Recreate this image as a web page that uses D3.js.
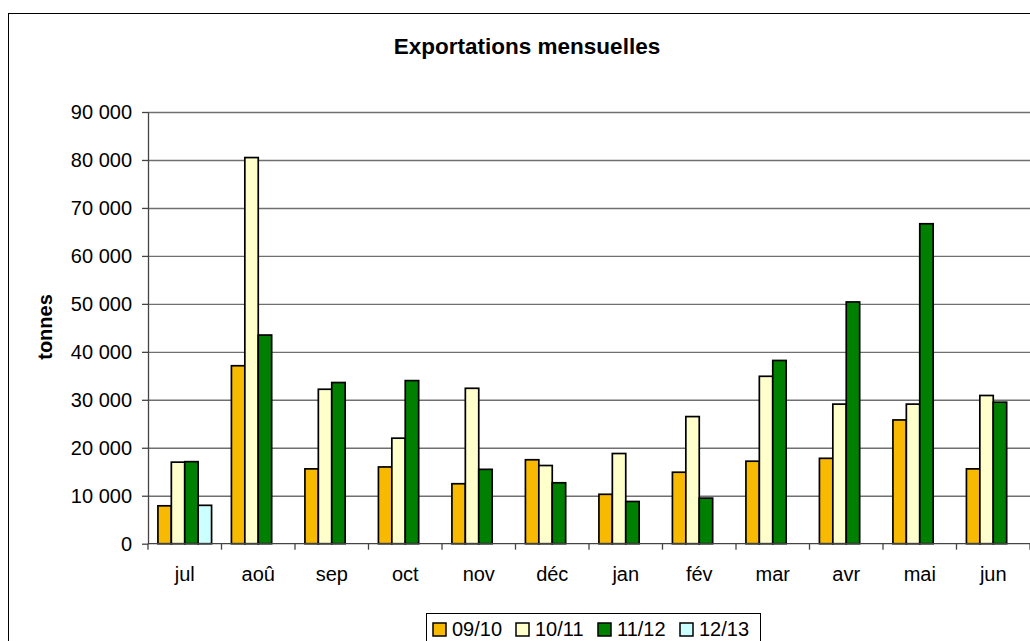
<!DOCTYPE html>
<html>
<head>
<meta charset="utf-8">
<script src="https://cdn.jsdelivr.net/npm/d3@7"></script>
<style>
  body { margin: 0; background: #fff; }
  svg { display: block; font-family: "Liberation Sans", Arial, sans-serif; }
</style>
</head>
<body>
<div id="chart-area"></div>
<script>
// data
var months = ["jul", "aoû", "sep", "oct", "nov", "déc", "jan", "fév", "mar", "avr", "mai", "jun"];
var seriesNames = ["09/10", "10/11", "11/12", "12/13"];
var s0910 = [7900, 37100, 15600, 16000, 12500, 17500, 10300, 14900, 17200, 17800, 25800, 15600];
var s1011 = [17000, 80500, 32200, 22000, 32400, 16300, 18800, 26500, 34900, 29100, 29100, 30900];
var s1112 = [17100, 43500, 33600, 34000, 15500, 12700, 8800, 9500, 38200, 50400, 66700, 29500];
var s1213 = [8000, null, null, null, null, null, null, null, null, null, null, null];
var yTicks = [0, 10000, 20000, 30000, 40000, 50000, 60000, 70000, 80000, 90000];
var colors = ["#F8BA00", "#FFFFCC", "#008000", "#CCFFFF"];

var allSeries = [s0910, s1011, s1112, s1213];

var W = 1030, H = 641;
var plot = { left: 148, right: 1030, top: 112, bottom: 543.7 };

var svg = d3.select("#chart-area").append("svg")
  .attr("width", W)
  .attr("height", H);

// outer frame
svg.append("rect")
  .attr("x", 8.5).attr("y", 13.5)
  .attr("width", 1040).attr("height", 660)
  .attr("fill", "#fff")
  .attr("stroke", "#000")
  .attr("stroke-width", 1);

// scales
var x = d3.scaleBand()
  .domain(months)
  .range([plot.left, plot.right])
  .paddingInner(0).paddingOuter(0);

var xs = d3.scaleBand()
  .domain(seriesNames)
  .range([0, x.bandwidth()])
  .paddingInner(0)
  .paddingOuter(0.74);

var y = d3.scaleLinear()
  .domain([0, 90000])
  .range([plot.bottom, plot.top]);

var fr = d3.formatLocale({ decimal: ",", thousands: " ", grouping: [3], currency: ["", ""] });
var fmt = fr.format(",");

// gridlines
svg.append("g")
  .attr("transform", "translate(" + plot.left + ",0)")
  .call(d3.axisLeft(y).tickValues(yTicks.slice(1)).tickSize(-(plot.right - plot.left)).tickFormat(""))
  .call(g => g.select(".domain").remove())
  .call(g => g.selectAll("line").attr("stroke", "#707070").attr("stroke-width", 1.4));

// bars
allSeries.forEach(function (vals, si) {
  svg.append("g")
    .selectAll("rect")
    .data(vals.map((v, i) => ({ m: months[i], v: v })).filter(d => d.v != null))
    .join("rect")
    .attr("x", d => x(d.m) + xs(seriesNames[si]))
    .attr("y", d => y(d.v))
    .attr("width", xs.bandwidth())
    .attr("height", d => y(0) - y(d.v))
    .attr("fill", colors[si])
    .attr("stroke", "#000")
    .attr("stroke-width", 1.7);
});

// y axis
svg.append("g")
  .attr("transform", "translate(" + plot.left + ",0)")
  .call(d3.axisLeft(y).tickValues(yTicks).tickSize(6).tickPadding(10).tickFormat(fmt).tickSizeOuter(0))
  .call(g => g.select(".domain").attr("stroke", "#444").attr("stroke-width", 1.3))
  .call(g => g.selectAll("line").attr("stroke", "#444").attr("stroke-width", 1.3))
  .call(g => g.selectAll("text").attr("font-size", 20).attr("fill", "#000")
    .attr("font-family", "Liberation Sans, Arial, sans-serif"));

// x axis
var xg = svg.append("g");
xg.append("line")
  .attr("x1", plot.left).attr("x2", plot.right)
  .attr("y1", y(0)).attr("y2", y(0))
  .attr("stroke", "#444").attr("stroke-width", 1.3);
var bounds = months.map(m => x(m)).concat([x(months[months.length - 1]) + x.bandwidth()]);
xg.selectAll("line.tick")
  .data(bounds)
  .join("line")
  .attr("class", "tick")
  .attr("x1", d => d).attr("x2", d => d)
  .attr("y1", y(0)).attr("y2", y(0) + 6)
  .attr("stroke", "#444").attr("stroke-width", 1.3);
xg.selectAll("text")
  .data(months)
  .join("text")
  .attr("x", d => x(d) + x.bandwidth() / 2)
  .attr("y", 581)
  .attr("text-anchor", "middle")
  .attr("font-size", 20)
  .text(d => d);

// title
svg.append("text")
  .attr("x", 527).attr("y", 54)
  .attr("text-anchor", "middle")
  .attr("font-size", 22.5)
  .attr("font-weight", "bold")
  .text("Exportations mensuelles");

// y label
svg.append("text")
  .attr("transform", "translate(52,327) rotate(-90)")
  .attr("text-anchor", "middle")
  .attr("font-size", 20)
  .attr("font-weight", "bold")
  .text("tonnes");

// legend
var lg = svg.append("g");
lg.append("rect")
  .attr("x", 426.5).attr("y", 613.5)
  .attr("width", 334).attr("height", 40)
  .attr("fill", "#fff")
  .attr("stroke", "#000").attr("stroke-width", 1);
var legX = [433, 516, 598, 680];
seriesNames.forEach(function (s, i) {
  lg.append("rect")
    .attr("x", legX[i]).attr("y", 623)
    .attr("width", 13).attr("height", 13)
    .attr("fill", colors[i])
    .attr("stroke", "#000").attr("stroke-width", 1.5);
  lg.append("text")
    .attr("x", legX[i] + 19).attr("y", 636)
    .attr("font-size", 20)
    .text(s);
});
</script>
</body>
</html>
